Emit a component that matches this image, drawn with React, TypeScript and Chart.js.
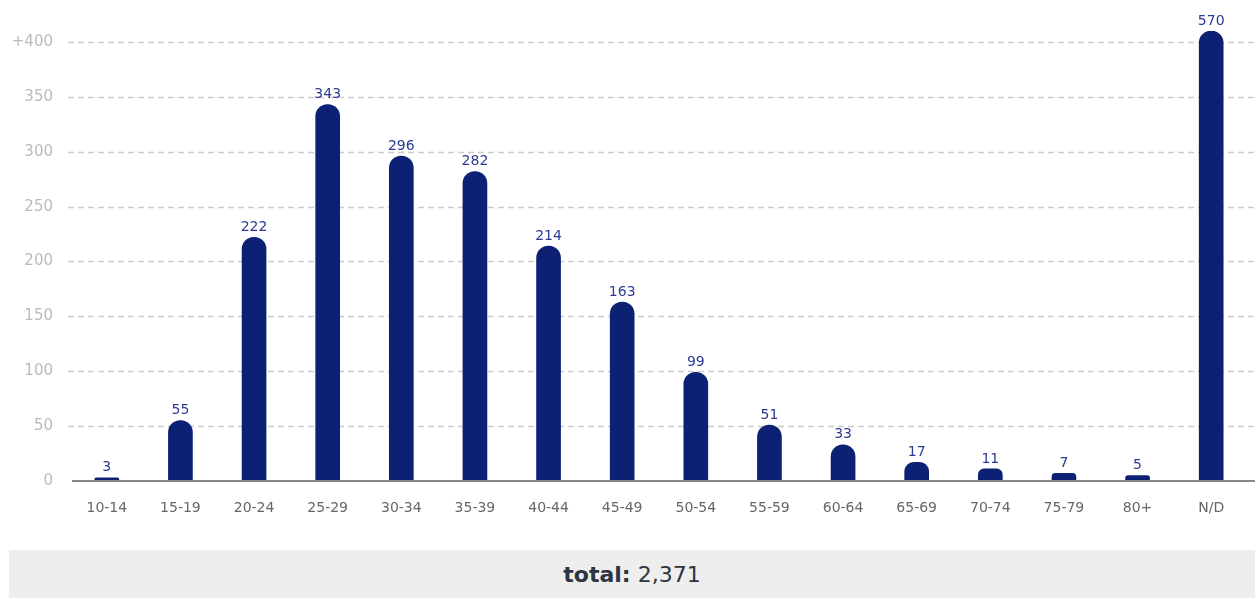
import React, { useEffect, useRef } from "react";
import { Chart, registerables } from "chart.js";

Chart.register(...registerables);

const categories = ["10-14", "15-19", "20-24", "25-29", "30-34", "35-39", "40-44", "45-49", "50-54", "55-59", "60-64", "65-69", "70-74", "75-79", "80+", "N/D"];
const values = [3, 55, 222, 343, 296, 282, 214, 163, 99, 51, 33, 17, 11, 7, 5, 570];
const yTicks = [0, 50, 100, 150, 200, 250, 300, 350, 400];
const axisCap = 410;
const totalValue = 2371;

const FONT = "'DejaVu Sans', Verdana, sans-serif";
const BAR_COLOR = "#0c2074";
const LABEL_COLOR = "#2b3a92";

export default function App() {
  const canvasRef = useRef<HTMLCanvasElement | null>(null);

  useEffect(() => {
    const canvas = canvasRef.current;
    if (!canvas) return;

    const gridPlugin = {
      id: "customGrid",
      beforeDatasetsDraw(chart: any) {
        const { ctx, chartArea, scales } = chart;
        const y = scales.y;
        ctx.save();
        yTicks.forEach((t) => {
          if (t === 0) return;
          const py = Math.round(y.getPixelForValue(t)) + 0.5;
          ctx.beginPath();
          ctx.setLineDash([6, 4]);
          ctx.strokeStyle = "#cccccc";
          ctx.lineWidth = 1.5;
          ctx.moveTo(chartArea.left - 2, py);
          ctx.lineTo(chart.width, py);
          ctx.stroke();
        });
        ctx.restore();
      },
      afterDatasetsDraw(chart: any) {
        const { ctx, chartArea, scales } = chart;
        const y = scales.y;
        ctx.save();
        const p0 = y.getPixelForValue(0);
        ctx.beginPath();
        ctx.setLineDash([]);
        ctx.strokeStyle = "#888888";
        ctx.lineWidth = 2;
        ctx.moveTo(chartArea.left + 2, p0);
        ctx.lineTo(chart.width, p0);
        ctx.stroke();

        const meta = chart.getDatasetMeta(0);
        ctx.fillStyle = LABEL_COLOR;
        ctx.font = `14px ${FONT}`;
        ctx.textAlign = "center";
        ctx.textBaseline = "bottom";
        meta.data.forEach((bar: any, i: number) => {
          ctx.fillText(String(values[i]), bar.x, bar.y - 3);
        });
        ctx.restore();
      },
    };

    const chart = new Chart(canvas, {
      type: "bar",
      data: {
        labels: categories,
        datasets: [
          {
            data: values.map((v) => Math.min(v, axisCap)),
            backgroundColor: BAR_COLOR,
            barThickness: 24,
            borderRadius: { topLeft: 12, topRight: 12, bottomLeft: 0, bottomRight: 0 },
            borderSkipped: "bottom",
          },
        ],
      },
      options: {
        animation: false,
        responsive: false,
        maintainAspectRatio: false,
        layout: { padding: { top: 23, right: 7, left: 0, bottom: 0 } },
        plugins: { legend: { display: false }, tooltip: { enabled: false } },
        scales: {
          x: {
            grid: { display: false, drawTicks: false },
            border: { display: false },
            ticks: { color: "#666666", font: { family: FONT, size: 14 }, padding: 19 },
            afterFit(scale: any) {
              scale.height = 69;
            },
          },
          y: {
            min: 0,
            max: axisCap,
            grid: { display: false, drawTicks: false },
            border: { display: false },
            afterBuildTicks(scale: any) {
              scale.ticks = yTicks.map((v) => ({ value: v }));
            },
            afterFit(scale: any) {
              scale.width = 62;
              scale.paddingTop = 0;
              scale.paddingBottom = 0;
            },
            ticks: {
              color: "#bbbbbb",
              font: { family: FONT, size: 15 },
              padding: 17,
              callback: (v: any) => (Number(v) === 400 ? "+400" : String(v)),
            },
          },
        },
      },
      plugins: [gridPlugin],
    });

    return () => chart.destroy();
  }, []);

  return (
    <div style={{ position: "fixed", left: 0, top: 0, width: 1255, height: 598, overflow: "hidden", background: "#fff" }}>
      <canvas ref={canvasRef} width={1247} height={542} style={{ position: "absolute", left: 8, top: 8, width: 1247, height: 542 }} />
      <div
        style={{
          position: "absolute",
          left: 9,
          top: 550,
          width: 1246,
          height: 48,
          background: "#eeeeee",
          display: "flex",
          alignItems: "center",
          justifyContent: "center",
          fontFamily: FONT,
          fontSize: 22,
          color: "#2e3440",
        }}
      >
        <span style={{ fontWeight: 700 }}>total:</span>
        <span style={{ marginLeft: 7 }}>{totalValue.toLocaleString("en-US")}</span>
      </div>
    </div>
  );
}
